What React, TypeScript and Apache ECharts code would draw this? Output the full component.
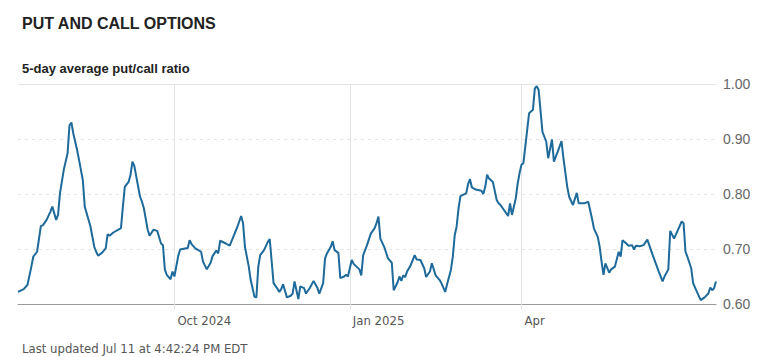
import React, { useEffect, useRef } from "react";
import * as echarts from "echarts";

const dates: string[] = [
  "2024-07-11","2024-07-14","2024-07-16","2024-07-18","2024-07-19","2024-07-21","2024-07-23","2024-07-24","2024-07-26","2024-07-28",
  "2024-07-29","2024-07-31","2024-08-01","2024-08-02","2024-08-04","2024-08-06","2024-08-07","2024-08-08","2024-08-09","2024-08-11",
  "2024-08-12","2024-08-14","2024-08-15","2024-08-18","2024-08-20","2024-08-21","2024-08-22","2024-08-24","2024-08-26","2024-08-27",
  "2024-08-28","2024-08-30","2024-09-03","2024-09-04","2024-09-05","2024-09-07","2024-09-08","2024-09-09","2024-09-10","2024-09-11",
  "2024-09-13","2024-09-14","2024-09-15","2024-09-17","2024-09-18","2024-09-20","2024-09-22","2024-09-24","2024-09-25","2024-09-26",
  "2024-09-27","2024-09-29","2024-09-30","2024-10-01","2024-10-03","2024-10-04","2024-10-08","2024-10-09","2024-10-10","2024-10-12",
  "2024-10-14","2024-10-15","2024-10-16","2024-10-18","2024-10-20","2024-10-21","2024-10-23","2024-10-24","2024-10-25","2024-10-28",
  "2024-10-30","2024-11-01","2024-11-03","2024-11-05","2024-11-06","2024-11-07","2024-11-09","2024-11-10","2024-11-12","2024-11-13",
  "2024-11-14","2024-11-15","2024-11-17","2024-11-19","2024-11-20","2024-11-22","2024-11-24","2024-11-25","2024-11-26","2024-11-27",
  "2024-11-29","2024-12-01","2024-12-02","2024-12-03","2024-12-05","2024-12-06","2024-12-08","2024-12-09","2024-12-11","2024-12-13",
  "2024-12-15","2024-12-16","2024-12-18","2024-12-19","2024-12-20","2024-12-22","2024-12-23","2024-12-24","2024-12-26","2024-12-27",
  "2024-12-29","2024-12-30","2024-12-31","2025-01-02","2025-01-03","2025-01-06","2025-01-07","2025-01-08","2025-01-10","2025-01-12",
  "2025-01-14","2025-01-15","2025-01-16","2025-01-17","2025-01-19","2025-01-21","2025-01-23","2025-01-24","2025-01-26","2025-01-27",
  "2025-01-28","2025-01-29","2025-01-30","2025-01-31","2025-02-02","2025-02-04","2025-02-05","2025-02-07","2025-02-09","2025-02-10",
  "2025-02-12","2025-02-13","2025-02-15","2025-02-17","2025-02-18","2025-02-20","2025-02-21","2025-02-23","2025-02-24","2025-02-25",
  "2025-02-26","2025-02-27","2025-02-28","2025-03-03","2025-03-04","2025-03-05","2025-03-06","2025-03-08","2025-03-11","2025-03-12",
  "2025-03-13","2025-03-14","2025-03-15","2025-03-17","2025-03-19","2025-03-20","2025-03-21","2025-03-23","2025-03-25","2025-03-26",
  "2025-03-27","2025-03-29","2025-03-30","2025-03-31","2025-04-01","2025-04-02","2025-04-03","2025-04-05","2025-04-06","2025-04-07",
  "2025-04-08","2025-04-09","2025-04-10","2025-04-12","2025-04-14","2025-04-15","2025-04-17","2025-04-18","2025-04-20","2025-04-22",
  "2025-04-23","2025-04-25","2025-04-26","2025-04-28","2025-04-30","2025-05-01","2025-05-04","2025-05-06","2025-05-08","2025-05-09",
  "2025-05-11","2025-05-12","2025-05-13","2025-05-14","2025-05-15","2025-05-17","2025-05-18","2025-05-20","2025-05-22","2025-05-23",
  "2025-05-24","2025-05-26","2025-05-27","2025-05-29","2025-05-30","2025-05-31","2025-06-02","2025-06-04","2025-06-06","2025-06-07",
  "2025-06-09","2025-06-12","2025-06-14","2025-06-15","2025-06-17","2025-06-18","2025-06-20","2025-06-23","2025-06-24","2025-06-25",
  "2025-06-26","2025-06-27","2025-06-29","2025-06-30","2025-07-02","2025-07-04","2025-07-06","2025-07-08","2025-07-09","2025-07-10",
  "2025-07-11","2025-07-12"
];

const ratios: number[] = [
  0.622,0.627,0.635,0.668,0.686,0.695,0.742,0.743,0.753,0.768,
  0.777,0.753,0.762,0.801,0.844,0.874,0.925,0.930,0.910,0.880,
  0.862,0.825,0.777,0.741,0.704,0.695,0.688,0.693,0.701,0.727,
  0.724,0.730,0.738,0.777,0.813,0.822,0.835,0.859,0.851,0.832,
  0.795,0.786,0.774,0.735,0.724,0.735,0.733,0.710,0.707,0.663,
  0.653,0.645,0.659,0.650,0.687,0.699,0.702,0.716,0.709,0.701,
  0.697,0.695,0.677,0.663,0.675,0.687,0.697,0.692,0.715,0.710,
  0.706,0.723,0.740,0.760,0.747,0.704,0.668,0.644,0.613,0.612,
  0.668,0.689,0.698,0.713,0.718,0.638,0.628,0.622,0.627,0.636,
  0.612,0.615,0.619,0.641,0.609,0.632,0.629,0.619,0.629,0.642,
  0.629,0.619,0.638,0.683,0.692,0.704,0.714,0.698,0.693,0.647,
  0.650,0.653,0.650,0.680,0.673,0.663,0.652,0.689,0.707,0.728,
  0.738,0.747,0.759,0.719,0.704,0.683,0.675,0.625,0.639,0.650,
  0.642,0.652,0.649,0.659,0.671,0.689,0.681,0.680,0.665,0.649,
  0.659,0.674,0.652,0.644,0.638,0.622,0.636,0.662,0.686,0.725,
  0.741,0.774,0.796,0.801,0.818,0.827,0.812,0.808,0.806,0.800,
  0.813,0.835,0.828,0.822,0.789,0.783,0.780,0.770,0.760,0.783,
  0.762,0.792,0.819,0.838,0.853,0.856,0.886,0.947,0.950,0.953,
  0.992,0.996,0.989,0.913,0.895,0.865,0.899,0.859,0.877,0.896,
  0.865,0.813,0.795,0.780,0.802,0.783,0.783,0.786,0.755,0.737,
  0.722,0.704,0.677,0.653,0.674,0.657,0.663,0.668,0.695,0.686,
  0.716,0.710,0.706,0.707,0.699,0.706,0.705,0.707,0.717,0.707,
  0.687,0.659,0.641,0.650,0.663,0.733,0.719,0.742,0.750,0.747,
  0.695,0.686,0.665,0.638,0.622,0.607,0.612,0.619,0.630,0.625,
  0.629,0.641
];

const tickDateStrings: string[] = ["2024-10-01", "2025-01-01", "2025-04-01"];
const tickLabels: string[] = ["Oct 2024", "Jan 2025", "Apr"];

const yMin = 0.6;
const yMax = 1.0;
const yStep = 0.1;

const titleText = "PUT AND CALL OPTIONS";
const subtitleText = "5-day average put/call ratio";
const footerText = "Last updated Jul 11 at 4:42:24 PM EDT";

const narrowFont = "'Liberation Sans Narrow', 'DejaVu Sans Condensed', Roboto, sans-serif";

const toTs = (s: string): number => {
  const [y, m, d] = s.split("-").map(Number);
  return Date.UTC(y, m - 1, d);
};

export default function App() {
  const ref = useRef<HTMLDivElement>(null);
  useEffect(() => {
    document.body.style.margin = "0";
    if (!ref.current) return;
    const chart = echarts.init(ref.current, undefined, { renderer: "svg" });
    const seriesData = dates.map((d, i) => [toTs(d), ratios[i]]);
    const tickTs = tickDateStrings.map(toTs);
    const gridColor = "#e5e5e5";
    chart.setOption({
      animation: false,
      backgroundColor: "#ffffff",
      title: [
        {
          text: titleText,
          left: 17,
          top: 10,
          textStyle: { fontFamily: "'Liberation Sans', Arial, sans-serif", fontWeight: "bold", fontSize: 16, color: "#222222" },
        },
        {
          text: subtitleText,
          left: 17,
          top: 57,
          textStyle: { fontFamily: "'Liberation Sans', Arial, sans-serif", fontWeight: "bold", fontSize: 13, color: "#222222" },
        },
        {
          text: footerText,
          left: 17,
          top: 337,
          textStyle: { fontFamily: narrowFont, fontWeight: "normal", fontSize: 13, color: "#555555" },
        },
      ],
      grid: { left: 18, right: 50, top: 84, bottom: 53, containLabel: false },
      xAxis: {
        type: "value",
        min: toTs(dates[0]),
        max: toTs(dates[dates.length - 1]),
        axisLine: { show: true, onZero: false, lineStyle: { color: "#999999", width: 1 } },
        axisTick: {
          show: true,
          customValues: tickTs,
          length: 6,
          lineStyle: { color: gridColor },
        },
        axisLabel: {
          show: true,
          customValues: tickTs,
          showMinLabel: true,
          showMaxLabel: true,
          align: "left",
          margin: 10,
          padding: [0, 0, 0, 3],
          fontFamily: narrowFont,
          fontSize: 13,
          color: "#555555",
          formatter: (v: number) => {
            const idx = tickTs.findIndex((t) => Math.abs(t - v) < 86400000);
            return idx >= 0 ? tickLabels[idx] : "";
          },
        },
        splitLine: { show: false },
      },
      yAxis: {
        type: "value",
        position: "right",
        min: yMin,
        max: yMax,
        interval: yStep,
        axisLine: { show: false },
        axisTick: { show: false },
        axisLabel: {
          margin: 7,
          fontFamily: "'Liberation Sans', Arial, sans-serif",
          fontSize: 14,
          color: "#666666",
          formatter: (v: number) => v.toFixed(2),
        },
        splitLine: { show: true, lineStyle: { color: gridColor, type: [3, 4], width: 1 } },
      },
      series: [
        {
          type: "line",
          data: seriesData,
          z: 3,
          showSymbol: false,
          symbol: "none",
          lineStyle: { color: "#1d6a9b", width: 2 },
          itemStyle: { color: "#1d6a9b" },
          markLine: {
            silent: true,
            z: 1,
            symbol: ["none", "none"],
            label: { show: false },
            lineStyle: { color: gridColor, type: "solid", width: 1 },
            data: [
              ...tickTs.map((t) => ({ xAxis: t })),
              { yAxis: yMax },
            ],
          },
        },
      ],
    });
    return () => chart.dispose();
  }, []);
  return <div ref={ref} style={{ width: 766, height: 357 }} />;
}
